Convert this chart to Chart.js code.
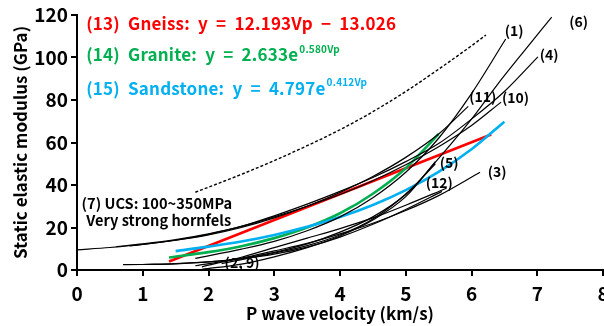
<!DOCTYPE html>
<html>
<head>
<meta charset="utf-8">
<script src="https://cdn.jsdelivr.net/npm/chart.js@4/dist/chart.umd.min.js"></script>
<style>
  html, body { margin: 0; padding: 0; background: #fff; }
  #wrap { width: 604px; height: 326px; position: relative; }
</style>
</head>
<body>
<div id="wrap"><canvas id="c"></canvas></div>
<script>
// Vp (km/s) vs static elastic modulus (GPa)
var xTicks = [0, 1, 2, 3, 4, 5, 6, 7, 8];
var yTicks = [0, 20, 40, 60, 80, 100, 120];

// (13) gneiss, (14) granite, (15) sandstone
var vpGneiss = [1.4, 6.3];
var eGneiss  = [4.0, 63.8];
var vpGranite = [1.4, 2.0, 2.5, 3.0, 3.5, 4.0, 4.5, 5.0, 5.5];
var eGranite  = [5.9, 8.4, 11.2, 15.0, 20.0, 26.7, 35.9, 47.9, 64.0];
var vpSand = [1.5, 2.0, 2.5, 3.0, 3.5, 4.0, 4.5, 5.0, 5.5, 6.0, 6.5];
var eSand  = [8.9, 11.0, 13.4, 16.5, 20.3, 24.9, 30.6, 37.6, 46.2, 56.8, 69.8];

// (7) hornfels, dashed upper bound
var vpDash = [1.8, 2.5, 3.0, 3.5, 4.0, 4.5, 5.0, 5.5, 6.0, 6.22];
var eDash  = [36.6, 45, 51.5, 58.5, 66, 74.5, 84, 94.5, 105.5, 110.6];

// black literature curves
var blackCurves = [
  { vp: [0, 0.5, 1, 1.5, 2, 2.5, 3, 3.5, 4, 4.5, 5, 5.5, 5.95],
    e:  [9.5, 10.6, 12, 14, 16.5, 20, 24.5, 30, 36.5, 44, 53, 64, 77] },
  { vp: [0.6, 1, 1.5, 2, 2.5, 3, 3.5, 4, 4.5, 5, 5.5, 6, 6.5, 7.01],
    e:  [11, 12.3, 14.3, 17, 20.5, 25.5, 31, 37, 43.5, 51, 59.5, 71, 84, 100.3] },
  { vp: [0.8, 1.5, 2, 2.5, 3, 3.5, 4, 4.5, 5, 5.5, 6, 6.45],
    e:  [11.3, 14, 16.8, 20.5, 25, 30, 35.5, 42, 49.5, 58, 68, 79] },
  { vp: [1.8, 2.5, 3, 3.5, 4, 4.5, 5, 5.5, 6, 6.52],
    e:  [5.5, 9.8, 13.5, 18.5, 25, 34, 46, 62, 83, 108.7] },
  { vp: [2.2, 3, 3.5, 4, 4.5, 5.1, 5.5, 6, 6.38, 6.8, 7.22],
    e:  [3, 8, 11.5, 16.5, 24, 38.6, 52.5, 71, 86.7, 103, 119] },
  { vp: [0.7, 1.5, 2, 2.5, 3, 3.5, 4, 4.5, 5, 5.45],
    e:  [2.5, 2.9, 3.8, 5.5, 8.3, 12.3, 17.8, 25, 35.5, 50] },
  { vp: [1.0, 1.5, 2, 2.5, 3, 3.5, 4, 4.5, 5, 5.55],
    e:  [2.6, 3.0, 3.8, 5.3, 7.5, 10.8, 15.5, 21.5, 28.5, 37] },
  { vp: [1.9, 2.5, 3, 3.5, 4, 4.5, 5, 5.45],
    e:  [0.3, 2.8, 6.2, 10.5, 16, 23.5, 34.5, 51] },
  { vp: [1.8, 2.5, 3, 3.5, 4, 4.5, 5, 5.5, 6.13],
    e:  [2, 5.5, 9, 12.5, 17, 22, 28, 35, 46] },
  { vp: [1.9, 2.5, 3, 3.5, 4, 4.5, 5, 5.62],
    e:  [1.5, 6, 10.5, 15, 19.5, 24.5, 30.5, 38.5] }
];

var curveLabels = ['(1)', '(6)', '(4)', '(11)', '(10)', '(5)', '(12)', '(3)', '(2, 9)'];
var labelVp     = [6.65, 7.63, 7.18, 6.17, 6.67, 5.66, 5.51, 6.39, 2.51];
var labelE      = [112.5, 116.7, 101.2, 81.4, 80.9, 50.4, 40.9, 46.1, 3.3];

function pts(vp, e) {
    return vp.map(function (v, i) { return { x: v, y: e[i] }; });
}

var FONT = '"Noto Sans CJK KR", "Noto Sans", sans-serif';
var RED = '#ff0000', GREEN = '#00b050', BLUE = '#00b0f0';

var datasets = [];
blackCurves.forEach(function (c) {
    datasets.push({ data: pts(c.vp, c.e), borderColor: '#000', borderWidth: 1.2 });
});
datasets.push({ data: pts(vpDash, eDash), borderColor: '#000', borderWidth: 1.4, borderDash: [3, 2] });
datasets.push({ data: pts(vpSand, eSand), borderColor: BLUE, borderWidth: 2.6 });
datasets.push({ data: pts(vpGranite, eGranite), borderColor: GREEN, borderWidth: 2.6 });
datasets.push({ data: pts(vpGneiss, eGneiss), borderColor: RED, borderWidth: 2.6 });

// text drawn in data coordinates
var textPlugin = {
    id: 'texts',
    afterDatasetsDraw: function (chart) {
        var ctx = chart.ctx;
        var sx = chart.scales.x, sy = chart.scales.y;
        ctx.save();
        ctx.textBaseline = 'middle';
        ctx.fillStyle = '#000';
        ctx.font = 'bold 14px ' + FONT;
        ctx.textAlign = 'center';
        curveLabels.forEach(function (t, i) {
            ctx.fillText(t, sx.getPixelForValue(labelVp[i]), sy.getPixelForValue(labelE[i]));
        });
        ctx.textAlign = 'left';
        ctx.font = 'bold 14.6px ' + FONT;
        ctx.fillText('(7) UCS: 100~350MPa', sx.getPixelForValue(0.07), sy.getPixelForValue(31.5));
        ctx.fillText('Very strong hornfels', sx.getPixelForValue(0.14), sy.getPixelForValue(23.1));

        var x0 = sx.getPixelForValue(0.14);
        ctx.letterSpacing = '0.2px';
        ctx.font = 'bold 17px ' + FONT;
        ctx.fillStyle = RED;
        ctx.fillText('(13)  Gneiss:  y  =  12.193Vp  \u2212  13.026', x0, sy.getPixelForValue(116.2));

        function expo(color, base, sup, yv) {
            var y = sy.getPixelForValue(yv);
            ctx.fillStyle = color;
            ctx.font = 'bold 17px ' + FONT;
            ctx.fillText(base, x0, y);
            var w = ctx.measureText(base).width;
            ctx.font = 'bold 10px ' + FONT;
            ctx.fillText(sup, x0 + w + 1, y - 6);
        }
        expo(GREEN, '(14)  Granite:  y  =  2.633e', '0.580Vp', 101.2);
        expo(BLUE, '(15)  Sandstone:  y  =  4.797e', '0.412Vp', 85.6);
        ctx.restore();
    }
};

new Chart(document.getElementById('c'), {
    type: 'line',
    data: { datasets: datasets },
    options: {
        responsive: true,
        maintainAspectRatio: false,
        animation: false,
        layout: { padding: { top: 15, right: 1, left: 0, bottom: 0 } },
        elements: {
            point: { radius: 0 },
            line: { cubicInterpolationMode: 'monotone', fill: false }
        },
        plugins: { legend: { display: false }, tooltip: { enabled: false } },
        scales: {
            x: {
                type: 'linear', min: 0, max: 8,
                afterBuildTicks: function (s) { s.ticks = xTicks.map(function (v) { return { value: v }; }); },
                afterFit: function (s) { s.paddingLeft = 0; s.paddingRight = 0; s.height = 56; },
                border: { color: '#000', width: 2 },
                grid: { drawOnChartArea: false, color: '#000', tickLength: 6, lineWidth: 2 },
                ticks: { color: '#000', padding: 6, font: { family: FONT, size: 19, weight: 'bold' } },
                title: { display: true, text: 'P wave velocity (km/s)', color: '#000',
                         padding: { top: 0, bottom: 2 },
                         font: { family: FONT, size: 17, weight: 'bold' } }
            },
            y: {
                type: 'linear', min: 0, max: 120,
                afterBuildTicks: function (s) { s.ticks = yTicks.map(function (v) { return { value: v }; }); },
                afterFit: function (s) { s.paddingTop = 0; s.paddingBottom = 0; s.width = 77; },
                border: { color: '#000', width: 2 },
                grid: { drawOnChartArea: false, color: '#000', tickLength: 6, lineWidth: 2 },
                ticks: { color: '#000', padding: 3, font: { family: FONT, size: 19, weight: 'bold' } },
                title: { display: true, text: 'Static elastic modulus (GPa)', color: '#000',
                         padding: { top: 10, bottom: 0 },
                         font: { family: FONT, size: 17, weight: 'bold' } }
            }
        }
    },
    plugins: [textPlugin]
});
</script>
</body>
</html>
